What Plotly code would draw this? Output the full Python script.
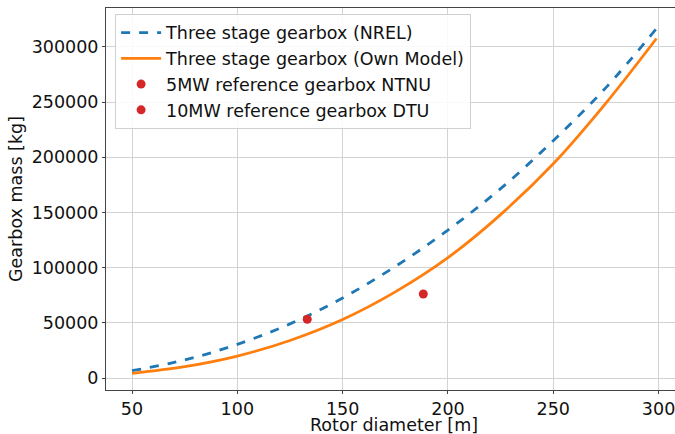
import plotly.graph_objects as go

rotor_d = [50, 75, 100, 125, 150, 175, 200, 225, 250, 275, 299]
mass_nrel = [6600, 16300, 30500, 49000, 72500, 101000, 134000, 171500, 215000, 263000, 316500]
mass_own = [4250, 10300, 19900, 34000, 53000, 78000, 109000, 148000, 194000, 249000, 307500]
ref5_d = [133.2]
ref5_m = [53200]
ref10_d = [188.3]
ref10_m = [76100]
x_ticks = [50, 100, 150, 200, 250, 300]
y_ticks = [0, 50000, 100000, 150000, 200000, 250000, 300000]

fig = go.Figure()
fig.add_trace(go.Scatter(x=rotor_d, y=mass_nrel, mode="lines", name="Three stage gearbox (NREL)",
                         line=dict(color="#1f77b4", width=2.8, dash="dash", shape="spline")))
fig.add_trace(go.Scatter(x=rotor_d, y=mass_own, mode="lines", name="Three stage gearbox (Own Model)",
                         line=dict(color="#ff7f0e", width=2.8, shape="spline")))
fig.add_trace(go.Scatter(x=ref5_d, y=ref5_m, mode="markers", name="5MW reference gearbox NTNU",
                         marker=dict(color="#d62728", size=9)))
fig.add_trace(go.Scatter(x=ref10_d, y=ref10_m, mode="markers", name="10MW reference gearbox DTU",
                         marker=dict(color="#d62728", size=9)))

axis_common = dict(showgrid=True, gridcolor="#d3d3d3", gridwidth=1, zeroline=False,
                   showline=True, linecolor="#444444", linewidth=1,
                   ticks="outside", ticklen=3, tickcolor="#444444",
                   tickfont=dict(size=17.5, color="#111111"))

fig.update_layout(
    width=675, height=434,
    margin=dict(l=106, r=0, t=8, b=44),
    paper_bgcolor="white", plot_bgcolor="white",
    font=dict(family="DejaVu Sans", size=17.5, color="#111111"),
    showlegend=True,
    legend=dict(x=0.016, y=0.985, xanchor="left", yanchor="top",
                bgcolor="rgba(255,255,255,0.85)", bordercolor="#d0d0d0", borderwidth=1,
                font=dict(size=17.5), itemwidth=40, tracegroupgap=0),
    xaxis=dict(range=[37.65, 307.8], tickvals=x_ticks, mirror=True,
               ticklabeloverflow="allow", **axis_common),
    yaxis=dict(range=[-10870, 335145], tickvals=y_ticks, tickformat="d",
               title=dict(text="Gearbox mass [kg]", font=dict(size=17.5), standoff=4), **axis_common),
    annotations=[dict(text="Rotor diameter [m]", xref="paper", yref="paper",
                      x=(394 - 106) / 569, y=(390 - 425) / 382, xanchor="center", yanchor="middle",
                      borderpad=0, showarrow=False, font=dict(size=17.5, color="#111111"))],
)

fig.write_html("out.html")
